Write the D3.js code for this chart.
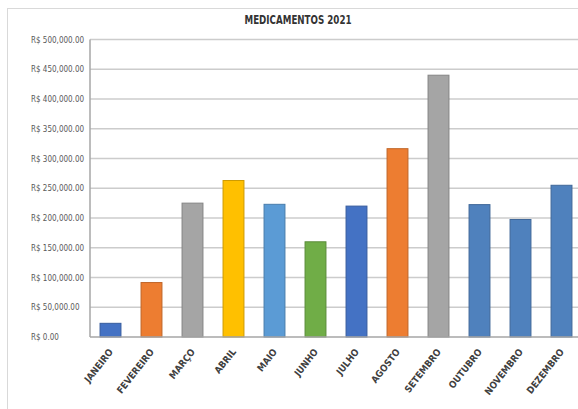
<!DOCTYPE html>
<html>
<head>
<meta charset="utf-8">
<script src="https://cdn.jsdelivr.net/npm/d3@7"></script>
<style>
  html, body { margin: 0; padding: 0; background: #fff; }
  svg { display: block; }
</style>
</head>
<body>
<svg id="chart" width="578" height="409"></svg>
<script>
// Monthly medicine spending, 2021
const months = ["JANEIRO", "FEVEREIRO", "MARÇO", "ABRIL", "MAIO", "JUNHO",
                "JULHO", "AGOSTO", "SETEMBRO", "OUTUBRO", "NOVEMBRO", "DEZEMBRO"];
const values = [23000, 91500, 225000, 263000, 223000, 160000,
                220000, 316500, 440000, 222500, 197500, 255000];
const barColors = ["#4472C4", "#ED7D31", "#A5A5A5", "#FFC000", "#5B9BD5", "#70AD47",
                   "#4472C4", "#ED7D31", "#A5A5A5", "#4F81BD", "#4F81BD", "#4F81BD"];
const yTicks = [0, 50000, 100000, 150000, 200000, 250000, 300000, 350000, 400000, 450000, 500000];
const title = "MEDICAMENTOS 2021";

const svg = d3.select("#chart");
const W = 578, H = 409;
const plot = { left: 90, right: 582, top: 39.5, bottom: 337 };
const narrow = "'Liberation Sans Narrow', 'DejaVu Sans Condensed', sans-serif";

const x = d3.scaleBand().domain(months).range([plot.left, plot.right]).paddingInner(0.49).paddingOuter(0.245);
const y = d3.scaleLinear().domain([0, 500000]).range([plot.bottom, plot.top]);

const fmt = v => "R$ " + d3.format(",.2f")(v);

// chart area frame
svg.append("line").attr("x1", 7).attr("x2", W).attr("y1", 8.5).attr("y2", 8.5)
  .attr("stroke", "#d9d9d9").attr("stroke-width", 1);
svg.append("line").attr("x1", 7.5).attr("x2", 7.5).attr("y1", 8).attr("y2", H)
  .attr("stroke", "#d9d9d9").attr("stroke-width", 1);

// title
svg.append("text")
  .attr("x", 298).attr("y", 24)
  .attr("text-anchor", "middle")
  .attr("font-family", narrow)
  .attr("font-size", 12)
  .attr("font-weight", "bold")
  .attr("textLength", 107)
  .attr("lengthAdjust", "spacingAndGlyphs")
  .attr("fill", "#333333")
  .text(title);

// horizontal gridlines
svg.append("g").selectAll("line").data(yTicks.filter(d => d > 0)).join("line")
  .attr("x1", plot.left).attr("x2", W)
  .attr("y1", d => y(d)).attr("y2", d => y(d))
  .attr("stroke", "#cccccc").attr("stroke-width", 1.5);

// y axis labels (accounting style: left aligned)
const yAxis = d3.axisLeft(y).tickValues(yTicks).tickFormat(fmt).tickSize(0);
const gy = svg.append("g").attr("transform", `translate(${plot.left},0)`).call(yAxis);
gy.select(".domain").remove();
gy.selectAll("text")
  .attr("x", 31 - plot.left)
  .attr("text-anchor", "start")
  .attr("font-family", narrow)
  .attr("font-size", 8)
  .attr("fill", "#595959");

// bars
svg.append("g").selectAll("rect").data(values).join("rect")
  .attr("x", (d, i) => x(months[i]))
  .attr("width", x.bandwidth())
  .attr("y", d => y(d))
  .attr("height", d => y(0) - y(d))
  .attr("fill", (d, i) => barColors[i])
  .attr("stroke", (d, i) => d3.color(barColors[i]).darker(0.6))
  .attr("stroke-width", 1);

// axes lines
svg.append("line").attr("x1", plot.left).attr("x2", W).attr("y1", y(0)).attr("y2", y(0))
  .attr("stroke", "#a6a6a6").attr("stroke-width", 1.5);
svg.append("line").attr("x1", plot.left).attr("x2", plot.left).attr("y1", plot.top).attr("y2", y(0))
  .attr("stroke", "#a6a6a6").attr("stroke-width", 1.5);

// month labels
const xAxis = d3.axisBottom(x).tickSize(0);
const gx = svg.append("g").attr("transform", `translate(0,${y(0)})`).call(xAxis);
gx.select(".domain").remove();
gx.selectAll("text")
  .attr("text-anchor", "end")
  .attr("x", 0).attr("y", 0).attr("dy", 0)
  .attr("transform", "translate(3,15) rotate(-52)")
  .attr("font-family", narrow)
  .attr("font-size", 9.5)
  .attr("font-weight", "bold")
  .attr("fill", "#404040");
</script>
</body>
</html>
